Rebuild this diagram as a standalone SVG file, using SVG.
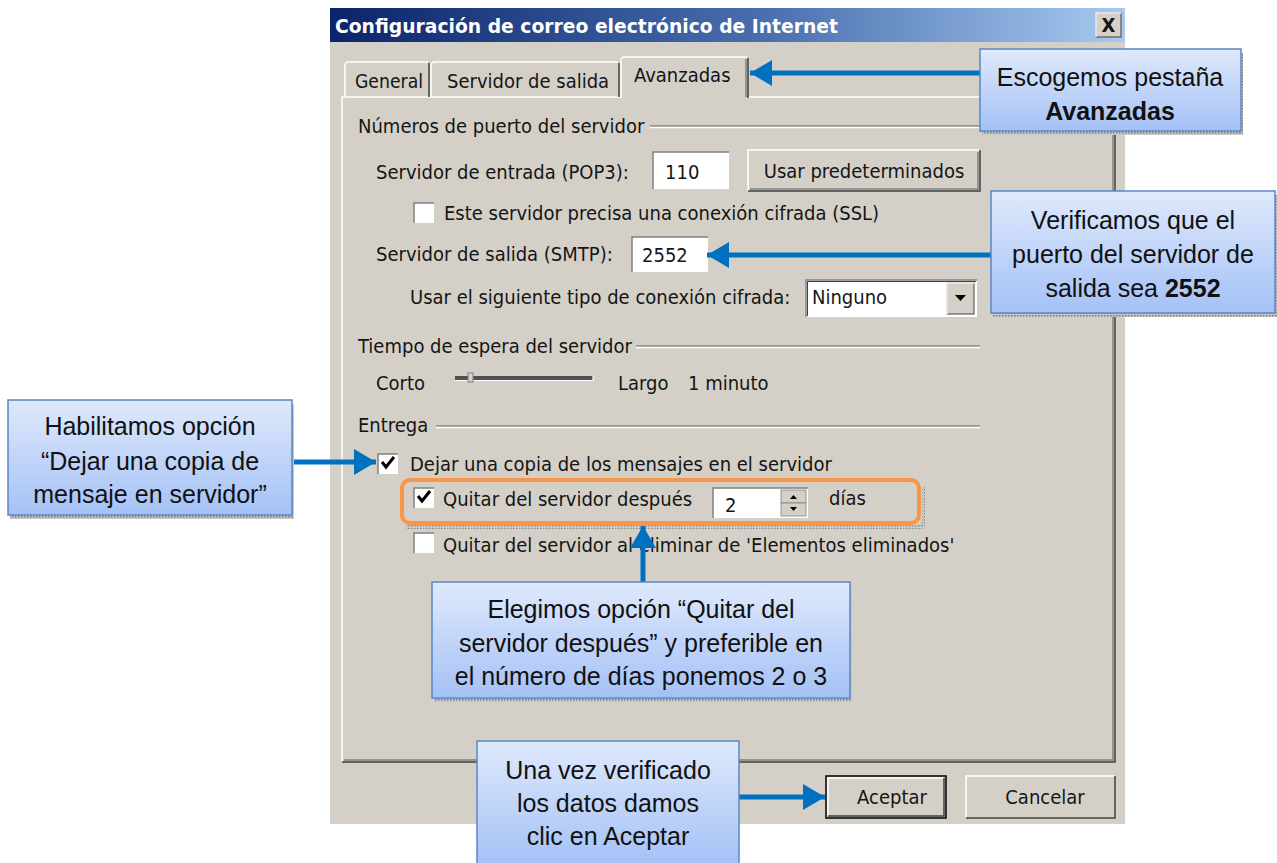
<svg xmlns="http://www.w3.org/2000/svg" width="1277" height="863" viewBox="0 0 1277 863">
<style>
.t{font-family:"DejaVu Sans Condensed","DejaVu Sans",sans-serif;font-stretch:condensed;font-size:20px;fill:#151515}
.c{font-family:"Liberation Sans",Arial,sans-serif;font-size:25px;fill:#111;text-anchor:middle}
.b{font-weight:bold}
.box{fill:url(#cg);stroke:#5a87c8;stroke-width:1.5}
.sh{fill:url(#hatch)}
.arrow{stroke:#0070c0;stroke-width:5;fill:none;marker-end:url(#ah)}
.hl{stroke:#ffffff;stroke-width:1.5}
.dk{stroke:#404040;stroke-width:1.5}
.gr{stroke:#808080;stroke-width:1.5}
.wbox{fill:#fff}
</style>
<defs>
<linearGradient id="tg" x1="0" y1="0" x2="1" y2="0">
<stop offset="0" stop-color="#0a246a"/>
<stop offset="0.55" stop-color="#4a6fae"/>
<stop offset="1" stop-color="#a6caf0"/>
</linearGradient>
<linearGradient id="cg" x1="0" y1="0" x2="0" y2="1">
<stop offset="0" stop-color="#dfe9fc"/>
<stop offset="1" stop-color="#a4c1f6"/>
</linearGradient>
<pattern id="hatch" width="3" height="3" patternUnits="userSpaceOnUse">
<rect width="3" height="3" fill="#c8c8c8"/>
<rect width="1.5" height="1.5" fill="#7a7a7a"/>
</pattern>
<marker id="ah" markerUnits="userSpaceOnUse" markerWidth="24" markerHeight="26" refX="22" refY="13" orient="auto">
<path d="M0,0 L22,13 L0,26 Z" fill="#0070c0"/>
</marker>
</defs>

<g id="dialog">
<rect x="330" y="8" width="795" height="816" fill="#d4d0c8"/>
<rect x="330" y="8" width="795" height="34" fill="url(#tg)"/>
<text x="335" y="33" font-family="DejaVu Sans Condensed,DejaVu Sans,sans-serif" font-stretch="condensed" font-weight="bold" font-size="20" fill="#fff" textLength="503" lengthAdjust="spacingAndGlyphs">Configuración de correo electrónico de Internet</text>
<rect x="1096" y="13" width="25" height="24" fill="#d4d0c8" stroke="#404040" stroke-width="1"/>
<path d="M1096,37 V13 H1121" stroke="#fff" stroke-width="1.5" fill="none"/>
<text x="1108.5" y="32" class="t b" text-anchor="middle" font-size="17">X</text>

<!-- panel -->
<path d="M342,762 V97 H620 M749,97 H1115" class="hl" fill="none"/>
<path d="M1115,97 V762 H342" class="dk" fill="none"/>
<path d="M1113,99 V760 H344" class="gr" fill="none"/>

<!-- tabs -->
<path d="M345,97 V64 L347,62 H428" class="hl" fill="none"/>
<path d="M429,63 V97" class="dk" fill="none"/>
<text x="355" y="88" class="t" textLength="68" lengthAdjust="spacingAndGlyphs">General</text>
<path d="M431,97 V64 L433,62 H618" class="hl" fill="none"/>
<path d="M619,63 V97" class="dk" fill="none"/>
<text x="447" y="88" class="t">Servidor de salida</text>
<path d="M621,98 V59 L623,57 H747" class="hl" fill="none"/>
<path d="M748,58 V98" class="dk" fill="none"/>
<path d="M746,59 V97" class="gr" fill="none"/>
<text x="634" y="82" class="t">Avanzadas</text>

<!-- group: puertos -->
<text x="358" y="133" class="t">Números de puerto del servidor</text>
<path d="M650,126 H980" class="gr"/>
<path d="M650,127.5 H980" class="hl"/>
<text x="376" y="179" class="t">Servidor de entrada (POP3):</text>
<rect x="653" y="152" width="76" height="37" class="wbox"/>
<path d="M653,189 V152 H729" class="gr" fill="none"/>
<text x="665" y="179" class="t">110</text>
<rect x="748" y="150" width="232" height="41" fill="#d4d0c8"/>
<path d="M748,191 V150 H980" class="hl" fill="none"/>
<path d="M980,150 V191 H748" class="dk" fill="none"/>
<path d="M978,152 V189 H750" class="gr" fill="none"/>
<text x="864" y="178" class="t" text-anchor="middle">Usar predeterminados</text>

<rect x="414" y="203" width="20" height="20" class="wbox"/>
<path d="M414,223 V203 H434" class="gr" fill="none"/>
<text x="444" y="220" class="t">Este servidor precisa una conexión cifrada (SSL)</text>

<text x="376" y="261" class="t">Servidor de salida (SMTP):</text>
<rect x="632" y="237" width="76" height="35" class="wbox"/>
<path d="M632,272 V237 H708" class="gr" fill="none"/>
<text x="642" y="262" class="t">2552</text>

<text x="410" y="304" class="t">Usar el siguiente tipo de conexión cifrada:</text>
<rect x="806" y="280" width="171" height="37" class="wbox"/>
<path d="M806,317 V280 H977" class="gr" fill="none"/>
<path d="M807.5,316 V281.5 H976" stroke="#404040" stroke-width="1" fill="none"/>
<rect x="947" y="283" width="27" height="31" fill="#d4d0c8" stroke="#404040" stroke-width="1"/>
<path d="M947,314 V283 H974" stroke="#fff" stroke-width="1.5" fill="none"/>
<path d="M955,295 H966 L960.5,301 Z" fill="#000"/>
<text x="812" y="304" class="t">Ninguno</text>

<!-- group: tiempo -->
<text x="358" y="353" class="t">Tiempo de espera del servidor</text>
<path d="M636,346 H980" class="gr"/>
<path d="M636,347.5 H980" class="hl"/>
<text x="376" y="390" class="t">Corto</text>
<rect x="455" y="376" width="138" height="4" fill="#505050"/>
<path d="M455,380.5 H593 V376" stroke="#fff" stroke-width="1.2" fill="none"/>
<rect x="468" y="373" width="5" height="9" fill="#d4d0c8" stroke="#808080" stroke-width="1"/>
<text x="618" y="390" class="t">Largo</text>
<text x="688" y="390" class="t">1 minuto</text>

<!-- group: entrega -->
<text x="358" y="432" class="t">Entrega</text>
<path d="M436,426 H980" class="gr"/>
<path d="M436,427.5 H980" class="hl"/>

<rect x="378" y="454" width="20" height="20" class="wbox"/>
<path d="M378,474 V454 H398" class="gr" fill="none"/>
<path d="M382,462 L386,467 L394,457" stroke="#000" stroke-width="3" fill="none"/>
<text x="410" y="471" class="t">Dejar una copia de los mensajes en el servidor</text>

<rect x="414" y="488" width="20" height="20" class="wbox"/>
<path d="M414,508 V488 H434" class="gr" fill="none"/>
<path d="M418,496 L422,501 L430,491" stroke="#000" stroke-width="3" fill="none"/>
<text x="443" y="506" class="t">Quitar del servidor después</text>
<rect x="713" y="488" width="95" height="30" class="wbox"/>
<path d="M713,518 V488 H808" class="gr" fill="none"/>
<rect x="781" y="490" width="25" height="13" fill="#d4d0c8" stroke="#808080" stroke-width="0.8"/>
<rect x="781" y="503" width="25" height="13" fill="#d4d0c8" stroke="#808080" stroke-width="0.8"/>
<path d="M790,499 H797 L793.5,495 Z M790,507 H797 L793.5,511 Z" fill="#000"/>
<text x="725" y="512" class="t">2</text>
<text x="829" y="505" class="t">días</text>

<rect x="414" y="533" width="20" height="20" class="wbox"/>
<path d="M414,553 V533 H434" class="gr" fill="none"/>
<text x="443" y="552" class="t">Quitar del servidor al eliminar de 'Elementos eliminados'</text>

<!-- buttons -->
<rect x="826" y="776" width="120" height="42" fill="#d4d0c8" stroke="#000" stroke-width="1.5"/>
<path d="M828,816 V778 H944" class="hl" fill="none"/>
<path d="M944,778 V816 H828" class="dk" fill="none"/>
<text x="892" y="804" class="t" text-anchor="middle">Aceptar</text>
<rect x="966" y="776" width="149" height="42" fill="#d4d0c8"/>
<path d="M966,818 V776 H1115" class="hl" fill="none"/>
<path d="M1115,776 V818 H966" class="dk" fill="none"/>
<text x="1045" y="804" class="t" text-anchor="middle">Cancelar</text>
</g>

<g id="highlight">
<path d="M406,525 H918 Q922,525 922,521 V487 H925 V524 Q925,529 920,529 H406 Z" class="sh" opacity="0.8"/>
<rect x="402" y="480" width="517" height="43" rx="8" fill="none" stroke="#f79646" stroke-width="4"/>
</g>

<g id="connectors">
<line x1="980" y1="73" x2="750" y2="73" class="arrow"/>
<line x1="991" y1="255" x2="707" y2="255" class="arrow"/>
<line x1="292" y1="462" x2="376" y2="462" class="arrow"/>
<line x1="643" y1="582" x2="643" y2="526" class="arrow"/>
<line x1="739" y1="797" x2="825" y2="797" class="arrow"/>
</g>

<g id="callout-avanzadas">
<rect x="982" y="53" width="261" height="82" class="sh"/>
<rect x="980" y="49" width="261" height="82" class="box"/>
<text x="1110" y="86" class="c">Escogemos pestaña</text>
<text x="1110" y="120" class="c b">Avanzadas</text>
</g>

<g id="callout-puerto">
<rect x="993" y="195" width="284" height="122" class="sh"/>
<rect x="991" y="191" width="284" height="122" class="box"/>
<text x="1133" y="229" class="c">Verificamos que el</text>
<text x="1133" y="263" class="c">puerto del servidor de</text>
<text x="1133" y="297" class="c">salida sea <tspan class="b">2552</tspan></text>
</g>

<g id="callout-copia">
<rect x="10" y="404" width="284" height="115" class="sh"/>
<rect x="8" y="400" width="284" height="115" class="box"/>
<text x="150" y="435" class="c">Habilitamos opción</text>
<text x="150" y="470" class="c">“Dejar una copia de</text>
<text x="150" y="503" class="c">mensaje en servidor”</text>
</g>

<g id="callout-quitar">
<rect x="434" y="586" width="418" height="116" class="sh"/>
<rect x="432" y="582" width="418" height="116" class="box"/>
<text x="641" y="618" class="c">Elegimos opción “Quitar del</text>
<text x="641" y="652" class="c">servidor después” y preferible en</text>
<text x="641" y="685" class="c">el número de días ponemos 2 o 3</text>
</g>

<g id="callout-aceptar">
<rect x="477" y="741" width="262" height="124" class="box"/>
<text x="608" y="779" class="c">Una vez verificado</text>
<text x="608" y="812" class="c">los datos damos</text>
<text x="608" y="845" class="c">clic en Aceptar</text>
</g>
</svg>
